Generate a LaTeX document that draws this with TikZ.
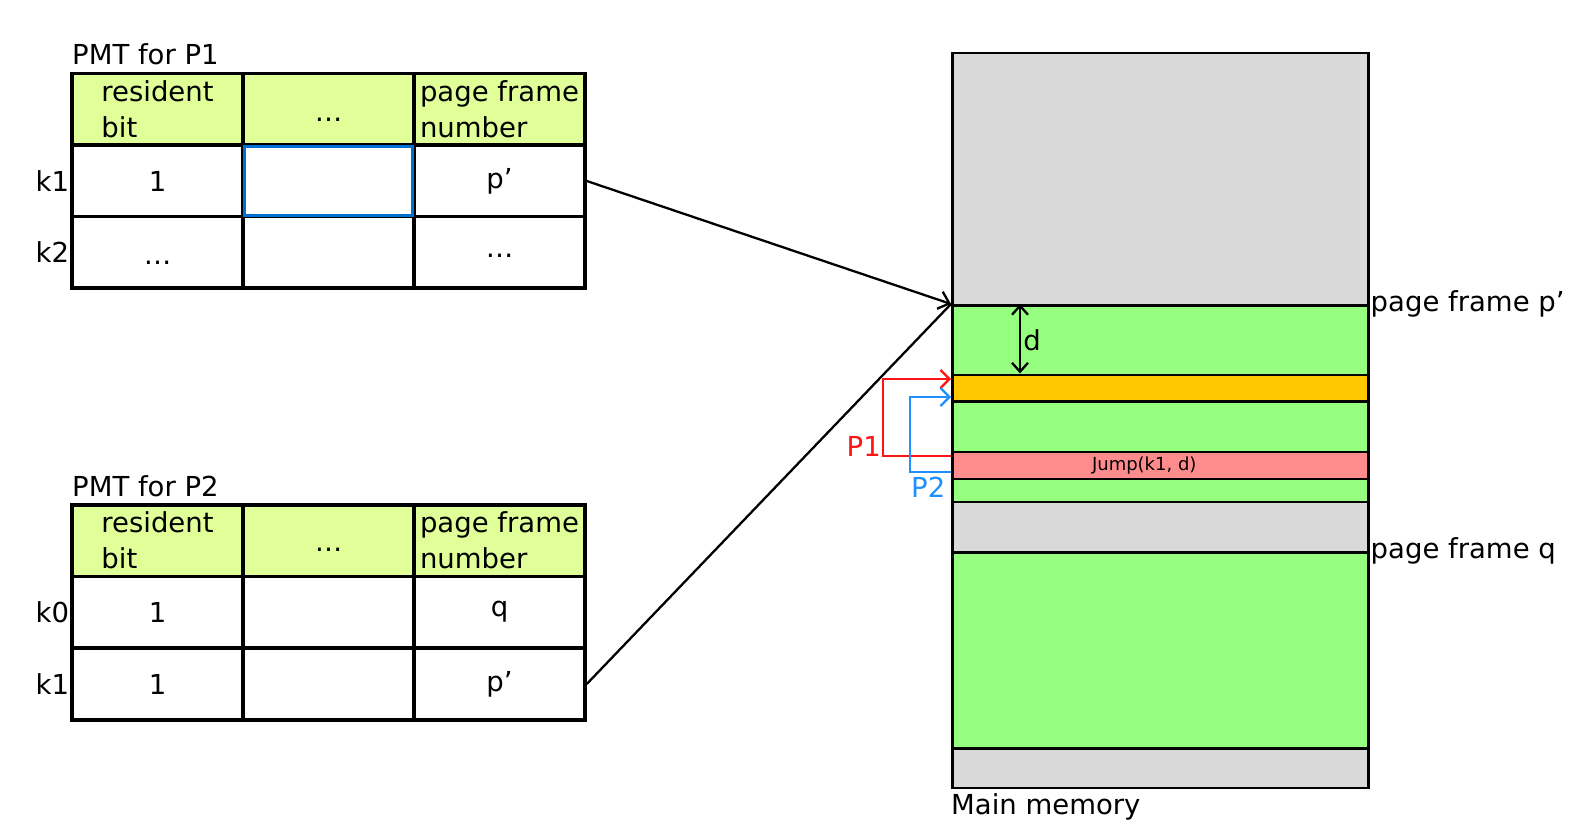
\documentclass[tikz,border=0pt]{standalone}
\usepackage{fontspec}
\setmainfont{DejaVu Sans}
\definecolor{hdrgreen}{RGB}{224,255,153}
\definecolor{memgreen}{RGB}{150,255,128}
\definecolor{memgray}{RGB}{217,217,217}
\definecolor{memorange}{RGB}{255,200,0}
\definecolor{memred}{RGB}{255,140,140}
\definecolor{cellblue}{RGB}{0,112,210}
\definecolor{ptwoblue}{RGB}{30,144,255}
\definecolor{poneRed}{RGB}{255,20,20}
\usetikzlibrary{positioning,arrows.meta}

\begin{document}
\begin{tikzpicture}[x=1pt, y=-1pt, every node/.style={font=\fontsize{27.5}{36}\selectfont},
    cell/.style={draw, line width=3.5pt, minimum width=171, minimum height=71.5, inner sep=0},
    hdr/.style={cell, fill=hdrgreen, align=left},
    dots/.style={inner sep=0, yshift=-#1},
    band/.style={draw, line width=2.5pt, minimum width=416, inner sep=0, anchor=north west},
    rowlbl/.style={anchor=east, inner sep=1pt}]
    \useasboundingbox (0,0) rectangle (1587,834);

    % PMT for P1
    \node[anchor=base west, inner sep=0] (t1) at (72,65) {PMT for P1};
    \node[hdr] (a0) at (157.5,109.5) {resident\\bit};
    \node[hdr] (b0) at (328.5,109.5) {};
    \node[hdr] (c0) at (499.5,109.5) {page frame\\number};
    \node[cell] (a1) at (157.5,181) {1};
    \node[cell] (b1) at (328.5,181) {};
    \node[cell] (c1) at (499.5,181) {p’};
    \node[cell] (a2) at (157.5,252.5) {};
    \node[cell] (b2) at (328.5,252.5) {};
    \node[cell] (c2) at (499.5,252.5) {};
    \node[draw=cellblue, line width=2.5pt, minimum width=168, minimum height=69, inner sep=0] (sel) at (328.5,181) {};
    \node[dots=10] at (b0) {…};
    \node[dots=10] at (a2) {…};
    \node[dots=3] at (c2) {…};
    \node[rowlbl] (k1a) at (a1.west) {k1};
    \node[rowlbl] (k2a) at (a2.west) {k2};

    % PMT for P2
    \node[anchor=base west, inner sep=0] (t2) at (72,496) {PMT for P2};
    \node[hdr] (d0) at (157.5,540.5) {resident\\bit};
    \node[hdr] (e0) at (328.5,540.5) {};
    \node[hdr] (f0) at (499.5,540.5) {page frame\\number};
    \node[cell] (d1) at (157.5,612) {1};
    \node[cell] (e1) at (328.5,612) {};
    \node[cell] (f1) at (499.5,612) {q};
    \node[cell] (d2) at (157.5,684) {1};
    \node[cell] (e2) at (328.5,684) {};
    \node[cell] (f2) at (499.5,684) {p’};
    \node[dots=9] at (e0) {…};
    \node[rowlbl] (k0b) at (d1.west) {k0};
    \node[rowlbl] (k1b) at (d2.west) {k1};

    % Main memory
    \node[band, fill=memgray, minimum height=252] (m1) at (951,52) {};
    \node[band, fill=memgreen, minimum height=69.5] (m2) at (951,304) {};
    \node[band, fill=memorange, minimum height=26.5] (m3) at (951,373.5) {};
    \node[band, fill=memgreen, minimum height=50.5] (m4) at (951,400) {};
    \node[band, fill=memred, minimum height=27] (jump) at (951,450.5) {};
    \node[band, fill=memgreen, minimum height=23] (m6) at (951,477.5) {};
    \node[band, fill=memgray, minimum height=50.5] (m7) at (951,500.5) {};
    \node[band, fill=memgreen, minimum height=196] (m8) at (951,551) {};
    \node[band, fill=memgray, minimum height=39.5] (m9) at (951,747) {};
    \node[inner sep=0, font=\fontsize{18}{22}\selectfont] (jtxt) at ([xshift=-16]jump.center) {Jump(k1, d)};
    \node[anchor=west, inner sep=1pt] (pfp) at (m2.north east) {page frame p’};
    \node[anchor=west, inner sep=1pt] (pfq) at (m8.north east) {page frame q};
    \node[anchor=north west, inner sep=0] (mm) at ([yshift=-4]m9.south west) {Main memory};

    % offset d
    \coordinate (dtop) at (1020,304);
    \coordinate (dbot) at (1020,373.5);
    \draw[{Straight Barb[length=9,width=16]}-{Straight Barb[length=9,width=16]}, line width=2.3pt] (dtop) -- (dbot);
    \node[inner sep=0] (dlbl) at (1032,340) {d};

    % page table entries to page frame
    \draw[-{Straight Barb[length=10,width=18]}, line width=2.3pt] (c1.east) -- (m2.north west);
    \draw[line width=2.3pt] (f2.east) -- (m2.north west);

    % jumps of P1 and P2
    \coordinate (r1) at (951,456);
    \coordinate (r2) at (951,379);
    \coordinate (s1) at (951,472);
    \coordinate (s2) at (951,397);
    \draw[poneRed, line width=2.3pt, -{Straight Barb[length=9,width=18]}] (r1) -- (883,456) -- (883,379) -- (r2);
    \draw[ptwoblue, line width=2.3pt, -{Straight Barb[length=9,width=18]}] (s1) -- (910,472) -- (910,397) -- (s2);
    \node[text=poneRed, anchor=east, inner sep=0] (p1) at (881,446) {P1};
    \node[text=ptwoblue, anchor=west, inner sep=0] (p2) at (911,487) {P2};
\end{tikzpicture}
\end{document}
